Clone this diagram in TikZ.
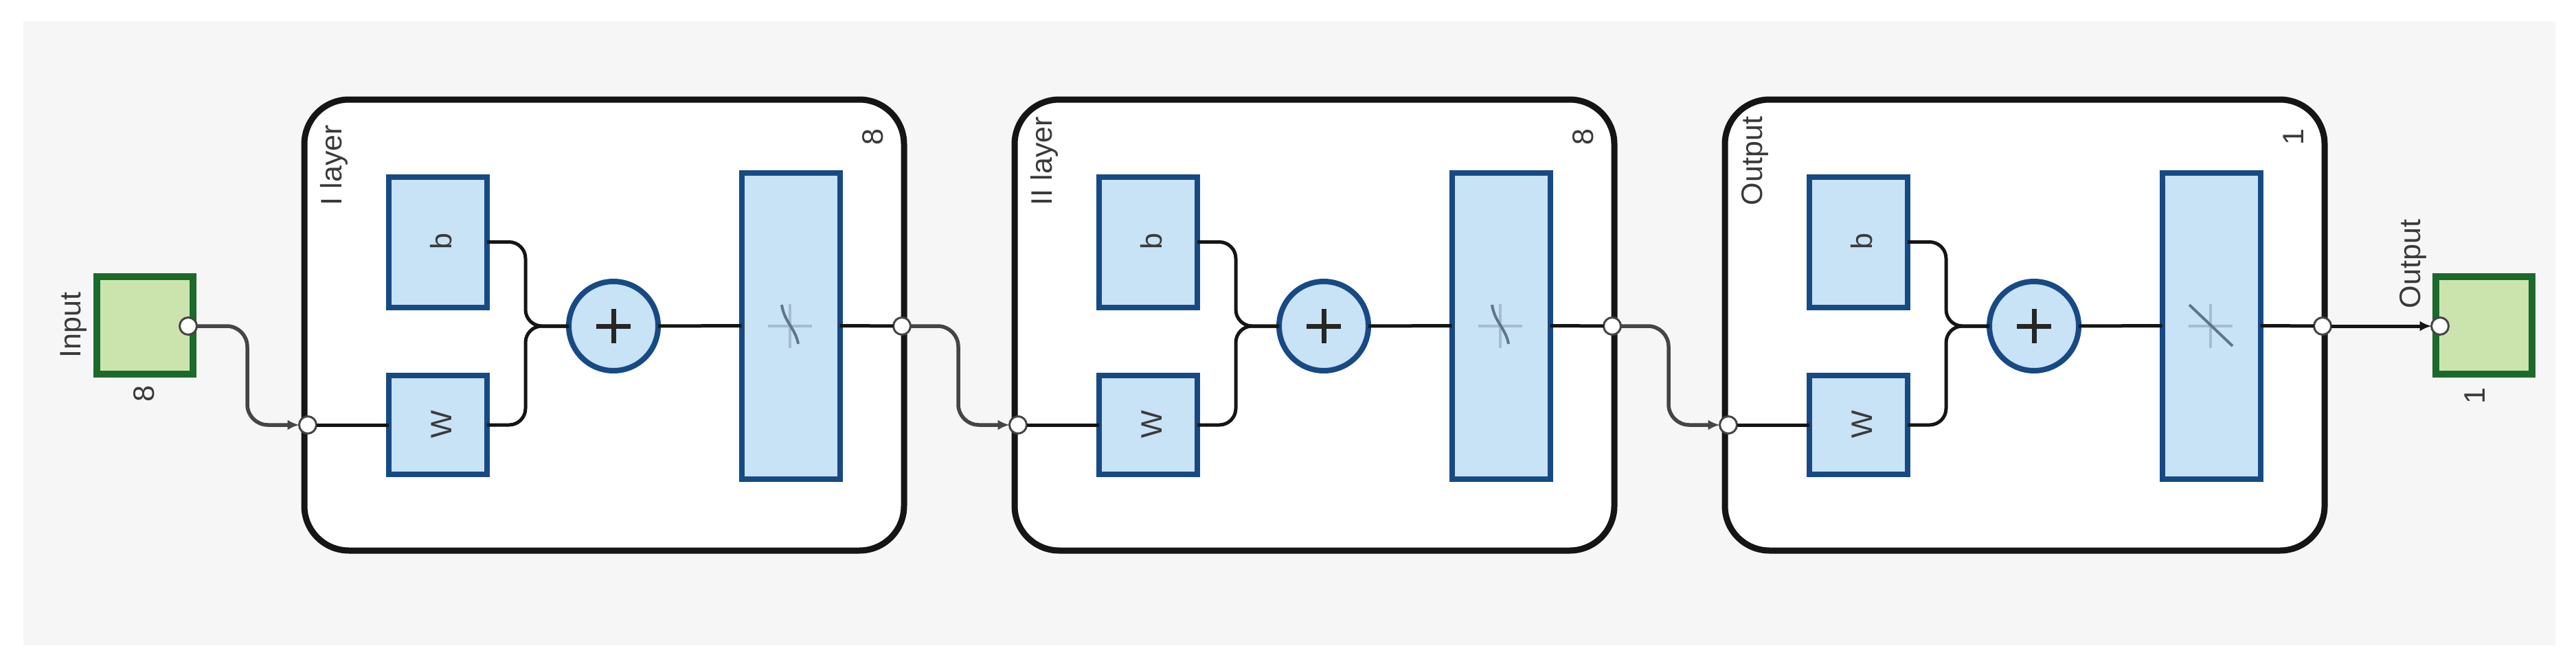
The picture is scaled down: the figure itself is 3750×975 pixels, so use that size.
\documentclass[tikz,border=0pt]{standalone}
\usepackage{fontspec}
\setmainfont{Liberation Sans}
\usetikzlibrary{arrows.meta}
\definecolor{pagebg}{HTML}{F6F6F6}
\definecolor{bluefill}{HTML}{C8E2F6}
\definecolor{blueline}{HTML}{174A85}
\definecolor{greenfill}{HTML}{CBE4AD}
\definecolor{greenline}{HTML}{1B6A2C}
\definecolor{wirein}{HTML}{151515}
\definecolor{wireout}{HTML}{454545}
\definecolor{labelc}{HTML}{3A3A3A}
\definecolor{axisc}{HTML}{A6BCD0}
\definecolor{curvec}{HTML}{5F7589}
\tikzset{
  every node/.style={inner sep=0pt,outer sep=0pt},
  txt/.style={rotate=90,font=\fontsize{43}{50}\selectfont,text=labelc},
  layerbox/.style={draw=wirein,line width=9pt,fill=white,rounded corners=65pt,minimum width=873pt,minimum height=657pt},
  weightbox/.style={draw=blueline,line width=8pt,fill=bluefill,minimum width=143pt},
  sumnode/.style={circle,draw=blueline,line width=8pt,fill=bluefill,minimum size=130pt},
  iobox/.style={draw=greenline,line width=10pt,fill=greenfill,minimum height=142pt},
  portnode/.style={circle,draw=wireout,line width=3pt,fill=white,minimum size=25pt},
  wire/.style={draw=wirein,line width=5pt,rounded corners=24pt},
  extwire/.style={draw=wireout,line width=5.5pt,rounded corners=30pt,-{Latex[length=17pt,width=15pt]}},
  axisline/.style={draw=axisc,line width=3.5pt},
  curveline/.style={draw=curvec,line width=4pt},
  plusline/.style={draw=black!85,line width=7pt}
}
\begin{document}
\begin{tikzpicture}[x=1pt,y=-1pt]
\useasboundingbox (0,0) rectangle (3750,975);
\fill[pagebg] (34,31) rectangle (3720,940);

% input / output
\node[iobox,minimum width=140pt] (inbox) at (211,474) {};
\node[iobox,minimum width=140pt] (outbox) at (3616,474) {};
\node[txt,anchor=base west] (inlabel) at (117,521) {Input};
\node[txt,anchor=base] (insize) at (224,574) {8};
\node[txt,anchor=base west] (outlabel) at (3523,449) {Output};
\node[txt,anchor=base] (outsize) at (3617,577) {1};
\node[portnode] (pin) at (274,475) {};
\node[portnode] (pout) at (3552,475) {};

\foreach \i/\o/\lbl/\sz in {1/0/I layer/8,2/1034/II layer/8,3/2068/Output/1}{
\begin{scope}[xshift=\o pt]
  \node[layerbox] (layer\i) at (879.5,473.5) {};
  \node[txt,anchor=base west] (lname\i) at (497,299) {\lbl};
  \node[txt,anchor=base] (lsize\i) at (1285,200) {\sz};
  \node[weightbox,minimum height=190pt] (b\i) at (637.5,352.5) {};
  \node[weightbox,minimum height=144pt] (w\i) at (637.5,619) {};
  \node[txt,anchor=base] (bt\i) at (657,352) {b};
  \node[txt,anchor=base] (wt\i) at (657,618) {W};
  \node[sumnode] (sum\i) at (893,475) {};
  \draw[plusline] (868,475) -- (918,475) (893,450) -- (893,500);
  \node[weightbox,minimum height=446pt] (tf\i) at (1151,474.5) {};
  \draw[axisline] (1118,475) -- (1182,475) (1150,443) -- (1150,507);
  \ifnum\i=3
    \draw[curveline] (1119,444) -- (1182,504);
  \else
    \draw[curveline] (1138,444) .. controls (1142,470) and (1158,478) .. (1162,501);
  \fi
  \node[portnode] (pl\i) at (448,619) {};
  \node[portnode] (pr\i) at (1313,475) {};
  \coordinate (j\i) at (765,475);
  \draw[wire] (pl\i) -- (w\i);
  \draw[wire] (b\i.east) -- (j\i |- b\i.east) -- (j\i) -- (sum\i.west);
  \draw[wire] (w\i.east) -- (j\i |- w\i.east) -- (j\i) -- (sum\i.west);
  \draw[wire,rounded corners=0pt] (sum\i.east) -- (tf\i.west);
  \draw[wire,rounded corners=0pt] (tf\i.east) -- (pr\i);
\end{scope}
}
% connectors between stages
\coordinate (c0) at (360,475);
\coordinate (c1) at (1395,475);
\coordinate (c2) at (2429,475);
\draw[extwire] (pin) -- (c0) -- (c0 |- pl1) -- (pl1);
\draw[extwire] (pr1) -- (c1) -- (c1 |- pl2) -- (pl2);
\draw[extwire] (pr2) -- (c2) -- (c2 |- pl3) -- (pl3);
\draw[extwire,draw=wirein,line width=5pt] (pr3) -- (pout);
\end{tikzpicture}
\end{document}
